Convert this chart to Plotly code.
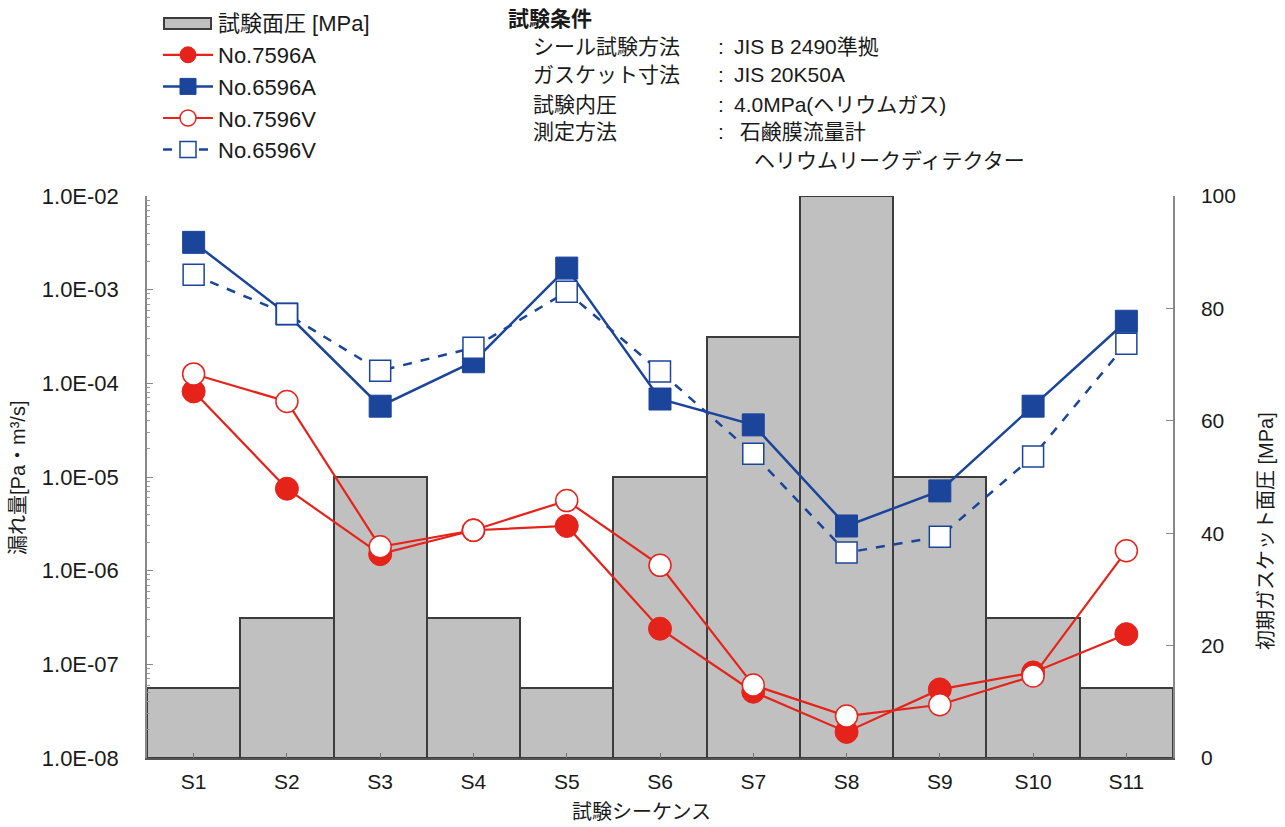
import plotly.graph_objects as go

# Test sequence steps
steps = ["S1", "S2", "S3", "S4", "S5", "S6", "S7", "S8", "S9", "S10", "S11"]

# Gasket surface pressure applied at each step [MPa]
surface_pressure = [12.5, 25, 50, 25, 12.5, 50, 75, 100, 50, 25, 12.5]

# Leak rate [Pa·m3/s]
leak_7596A = [8.2e-5, 7.5e-6, 1.5e-6, 2.7e-6, 3.0e-6, 2.4e-7, 5.1e-8, 1.9e-8, 5.4e-8, 8.2e-8, 2.1e-7]
leak_6596A = [3.2e-3, 5.5e-4, 5.7e-5, 1.7e-4, 1.7e-3, 6.8e-5, 3.6e-5, 3.0e-6, 7.1e-6, 5.7e-5, 4.6e-4]
leak_7596V = [1.26e-4, 6.4e-5, 1.8e-6, 2.7e-6, 5.6e-6, 1.14e-6, 6.0e-8, 2.8e-8, 3.7e-8, 7.5e-8, 1.63e-6]
leak_6596V = [1.44e-3, 5.5e-4, 1.36e-4, 2.4e-4, 9.5e-4, 1.34e-4, 1.77e-5, 1.56e-6, 2.3e-6, 1.66e-5, 2.64e-4]

leak_ticks = [1e-8, 1e-7, 1e-6, 1e-5, 1e-4, 1e-3, 1e-2]
leak_ticktext = [f"{v:.1E}" for v in leak_ticks]
leak_minor = [k * 10.0 ** e for e in range(-8, -2) for k in range(2, 10)]

bar_label = "試験面圧 [MPa]"
conditions_title = "試験条件"
conditions = [
    ("シール試験方法", "JIS B 2490準拠"),
    ("ガスケット寸法", "JIS 20K50A"),
    ("試験内圧", "4.0MPa(ヘリウムガス)"),
    ("測定方法", " 石鹸膜流量計"),
]
conditions_extra = "ヘリウムリークディテクター"

W, H = 1285, 827
L, R, T, B = 147, 112, 196, 69
PW, PH = W - L - R, H - T - B


def px(x):
    return (x - L) / PW


def py(y):
    return (H - B - y) / PH


RED = "#e5231b"
BLUE = "#1b459b"
FONT = "Liberation Sans, Arial, Noto Sans CJK JP, sans-serif"
TXT = "#1a1a1a"

fig = go.Figure()

fig.add_trace(go.Bar(
    x=steps, y=surface_pressure, name=bar_label, yaxis="y", showlegend=False,
    marker=dict(color="#c0c0c0", line=dict(color="#3c3c3c", width=2)),
    width=1.0,
))

fig.add_trace(go.Scatter(
    x=steps, y=leak_7596A, name="No.7596A", yaxis="y2", mode="lines+markers",
    line=dict(color=RED, width=2.2),
    marker=dict(symbol="circle", size=23, color=RED, line=dict(color=RED, width=1)),
))
fig.add_trace(go.Scatter(
    x=steps, y=leak_6596A, name="No.6596A", yaxis="y2", mode="lines+markers",
    line=dict(color=BLUE, width=2.5),
    marker=dict(symbol="square", size=22, color=BLUE, line=dict(color=BLUE, width=1)),
))
fig.add_trace(go.Scatter(
    x=steps, y=leak_7596V, name="No.7596V", yaxis="y2", mode="lines+markers",
    line=dict(color=RED, width=2.2),
    marker=dict(symbol="circle", size=22, color="white", line=dict(color=RED, width=1.5)),
))
fig.add_trace(go.Scatter(
    x=steps, y=leak_6596V, name="No.6596V", yaxis="y2", mode="lines+markers",
    line=dict(color=BLUE, width=2.5, dash="dash"),
    marker=dict(symbol="square", size=21, color="white", line=dict(color=BLUE, width=1.5)),
))

CF = dict(family=FONT, size=21, color=TXT)
annotations = [
    dict(text=conditions_title, x=px(506), y=py(18), xanchor="left", yanchor="middle",
         font=dict(family=FONT, size=21, color=TXT, weight="bold")),
]
row_y = [47, 75, 104, 132]
for (label, value), yy in zip(conditions, row_y):
    annotations.append(dict(text=label, x=px(531), y=py(yy), xanchor="left", yanchor="middle", font=CF))
    annotations.append(dict(text=":", x=px(716), y=py(yy), xanchor="left", yanchor="middle", font=CF))
    annotations.append(dict(text=value, x=px(732), y=py(yy), xanchor="left", yanchor="middle", font=CF))
annotations.append(dict(text=conditions_extra, x=px(752), y=py(160), xanchor="left", yanchor="middle", font=CF))

# legend entry for the pressure bars
annotations.append(dict(text=bar_label, x=px(216), y=py(23), xanchor="left", yanchor="middle",
                        font=dict(family=FONT, size=22, color=TXT)))

# axis titles
TF = dict(family=FONT, size=20, color=TXT)
annotations.append(dict(text="漏れ量[Pa・m³/s]", x=px(18), y=py(478), textangle=-90,
                        xanchor="center", yanchor="middle", font=TF))
annotations.append(dict(text="初期ガスケット面圧 [MPa]", x=px(1266), y=py(531), textangle=-90,
                        xanchor="center", yanchor="middle", font=TF))
annotations.append(dict(text="試験シーケンス", x=px(641), y=py(812),
                        xanchor="center", yanchor="middle", font=TF))
for a in annotations:
    a.update(xref="paper", yref="paper", showarrow=False)

shapes = [
    dict(type="rect", xref="paper", yref="paper", x0=px(164), x1=px(211), y0=py(29), y1=py(18),
         fillcolor="#c0c0c0", line=dict(color="#3c3c3c", width=2)),
]

fig.update_layout(
    width=W, height=H,
    margin=dict(l=L, r=R, t=T, b=B, pad=0),
    paper_bgcolor="white", plot_bgcolor="white",
    bargap=0,
    showlegend=True,
    legend=dict(
        x=px(158), y=py(34), xanchor="left", yanchor="top",
        font=dict(family=FONT, size=22, color=TXT),
        bgcolor="rgba(0,0,0,0)", itemwidth=50, tracegroupgap=0,
        traceorder="normal",
    ),
    xaxis=dict(
        range=[-0.5, 10.5], showgrid=False, showline=True, linecolor="#555555", linewidth=2,
        ticks="inside", ticklen=5, tickcolor="#777777", ticklabelstandoff=4,
        tickfont=dict(family=FONT, size=21, color=TXT), automargin=False,
    ),
    yaxis=dict(
        side="right", range=[0, 100], dtick=20, showgrid=False, zeroline=False,
        showline=True, linecolor="#888888", linewidth=1.5,
        ticks="inside", ticklen=7, tickcolor="#888888", ticklabelstandoff=22,
        tickfont=dict(family=FONT, size=21, color=TXT), automargin=False,
    ),
    yaxis2=dict(
        overlaying="y", side="left", type="log", range=[-8, -2],
        tickmode="array", tickvals=leak_ticks, ticktext=leak_ticktext,
        showgrid=False, zeroline=False, showline=True, linecolor="#888888", linewidth=1.5,
        ticks="inside", ticklen=6, tickcolor="#888888", ticklabelstandoff=22,
        tickfont=dict(family=FONT, size=22, color=TXT), automargin=False,
        minor=dict(tickmode="array", tickvals=leak_minor, ticks="inside", ticklen=3,
                   tickcolor="#999999", showgrid=False),
    ),
    annotations=annotations,
    shapes=shapes,
)

fig.write_html("out.html")
